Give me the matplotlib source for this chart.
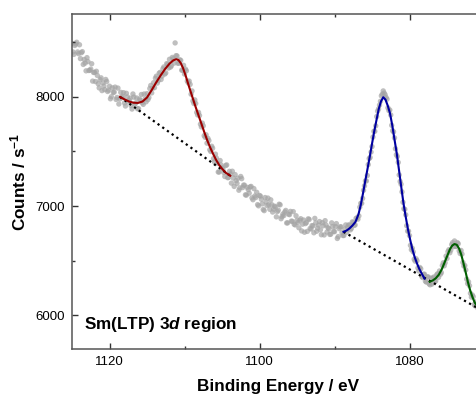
import numpy as np
import matplotlib.pyplot as plt

plt.rcParams['font.family'] = ['Liberation Sans', 'DejaVu Sans']
plt.rcParams['mathtext.fontset'] = 'custom'
plt.rcParams['mathtext.rm'] = 'Liberation Sans:bold'
plt.rcParams['mathtext.it'] = 'Liberation Sans:italic:bold'
plt.rcParams['mathtext.bf'] = 'Liberation Sans:bold'

# measured spectrum, two interleaved sweeps at 0.25 eV step
energy_a = np.arange(1125.0, 1069.99, -0.25)
counts_a = [
    8492, 8390, 8485, 8412, 8478, 8405, 8298, 8310,
    8360, 8242, 8255, 8145, 8225, 8235, 8120, 8158,
    8058, 8100, 8160, 8050, 8098, 8002, 8042, 8090,
    7995, 7935, 8042, 8005, 7945, 8033, 7955, 7988,
    7889, 7998, 7945, 7891, 7980, 8022, 7932, 7983,
    8030, 7995, 8105, 8080, 8085, 8190, 8150, 8225,
    8190, 8275, 8220, 8300, 8345, 8285, 8350, 8495,
    8376, 8310, 8335, 8245, 8210, 8240, 8130, 8115,
    8055, 7940, 7940, 7835, 7830, 7725, 7735, 7630,
    7576, 7600, 7500, 7530, 7405, 7440, 7312, 7417,
    7350, 7307, 7372, 7260, 7318, 7210, 7257, 7288,
    7208, 7145, 7271, 7169, 7191, 7100, 7150, 7175,
    7075, 7160, 7078, 7013, 7097, 7062, 6968, 7078,
    7004, 7012, 7057, 6945, 6999, 6901, 6962, 7011,
    6903, 6913, 6960, 6846, 6921, 6862, 6949, 6827,
    6869, 6801, 6884, 6834, 6760, 6848, 6883, 6795,
    6821, 6755, 6846, 6797, 6858, 6737, 6819, 6866,
    6762, 6792, 6742, 6812, 6765, 6839, 6720, 6809,
    6756, 6730, 6827, 6807, 6825, 6795, 6850, 6827,
    6892, 6910, 7025, 7070, 7185, 7230, 7380, 7445,
    7545, 7685, 7735, 7870, 7925, 8010, 8055, 8020,
    7980, 7875, 7835, 7690, 7625, 7470, 7400, 7225,
    7130, 6975, 6920, 6770, 6730, 6600, 6580, 6495,
    6499, 6405, 6425, 6345, 6375, 6303, 6350, 6278,
    6285, 6350, 6315, 6380, 6405, 6390, 6480, 6480,
    6520, 6600, 6595, 6665, 6680, 6630, 6655, 6565,
    6560, 6450, 6415, 6290, 6270, 6165, 6170, 6085,
    6115, 6055, 6080, 6025, 6050,
]
energy_b = np.arange(1124.875, 1070.0, -0.25)
counts_b = [
    8412, 8472, 8501, 8396, 8351, 8415, 8343, 8239,
    8324, 8244, 8304, 8224, 8141, 8197, 8083, 8175,
    8129, 8067, 8141, 8062, 7983, 8083, 8044, 7977,
    8081, 7981, 7994, 8039, 7917, 8000, 7969, 7921,
    8027, 7931, 7990, 7892, 7968, 7947, 8027, 7955,
    7975, 8077, 8037, 8130, 8172, 8127, 8217, 8160,
    8258, 8210, 8305, 8265, 8273, 8362, 8310, 8378,
    8308, 8340, 8245, 8290, 8255, 8145, 8145, 8025,
    7963, 7973, 7858, 7858, 7750, 7760, 7645, 7653,
    7620, 7515, 7548, 7435, 7476, 7393, 7312, 7377,
    7341, 7271, 7377, 7262, 7293, 7319, 7180, 7233,
    7255, 7167, 7251, 7192, 7103, 7171, 7118, 7180,
    7058, 7092, 7126, 7002, 7091, 7020, 6958, 7038,
    7073, 6970, 7013, 6971, 6991, 6949, 7017, 6884,
    6927, 6946, 6845, 6926, 6951, 6860, 6833, 6911,
    6849, 6870, 6772, 6872, 6839, 6768, 6877, 6789,
    6818, 6887, 6769, 6825, 6782, 6848, 6735, 6826,
    6802, 6740, 6846, 6767, 6812, 6703, 6793, 6810,
    6730, 6789, 6759, 6827, 6782, 6855, 6823, 6887,
    6880, 6990, 7025, 7145, 7230, 7280, 7435, 7495,
    7632, 7685, 7820, 7890, 7960, 8025, 8035, 7995,
    7900, 7880, 7740, 7680, 7525, 7455, 7285, 7200,
    7035, 6970, 6820, 6770, 6640, 6613, 6512, 6517,
    6432, 6437, 6355, 6375, 6311, 6351, 6286, 6339,
    6340, 6307, 6370, 6347, 6375, 6455, 6452, 6542,
    6582, 6572, 6647, 6628, 6630, 6665, 6590, 6593,
    6483, 6455, 6330, 6305, 6200, 6185, 6097, 6122,
    6063, 6093, 6035, 6065,
]

# fitted envelopes
red_E = [1118.6, 1118.0, 1117.4, 1116.8, 1116.2, 1115.6, 1115.0, 1114.4,
         1113.8, 1113.2, 1112.6, 1112.0, 1111.5, 1111.1, 1110.8, 1110.5,
         1110.2, 1109.8, 1109.4, 1109.0, 1108.6, 1108.2, 1107.8, 1107.4,
         1107.0, 1106.6, 1106.2, 1105.8, 1105.4, 1105.0, 1104.5, 1103.9]
red_C = [8000, 7978, 7958, 7947, 7945, 7958, 7995, 8060,
         8130, 8195, 8255, 8305, 8335, 8346, 8338, 8310,
         8265, 8185, 8095, 8010, 7925, 7845, 7765, 7685,
         7608, 7540, 7480, 7425, 7378, 7343, 7305, 7278]
blue_E = [1088.8, 1088.4, 1088.0, 1087.6, 1087.2, 1086.8, 1086.5, 1086.2,
          1085.9, 1085.6, 1085.3, 1085.0, 1084.7, 1084.4, 1084.1, 1083.8,
          1083.5, 1083.2, 1082.9, 1082.6, 1082.3, 1082.0, 1081.7, 1081.4,
          1081.1, 1080.8, 1080.5, 1080.2, 1079.9, 1079.6, 1079.3, 1079.0,
          1078.7, 1078.4, 1078.0]
blue_C = [6764, 6775, 6795, 6822, 6855, 6925, 7010, 7116,
          7230, 7340, 7452, 7570, 7685, 7789, 7890, 7960,
          7997, 7975, 7920, 7850, 7740, 7610, 7483, 7330,
          7175, 7024, 6900, 6785, 6688, 6600, 6530, 6474,
          6425, 6385, 6335]
green_E = [1077.3, 1076.9, 1076.5, 1076.1, 1075.7, 1075.3, 1074.9, 1074.6,
           1074.3, 1074.0, 1073.7, 1073.4, 1073.1, 1072.8, 1072.5, 1072.2,
           1071.9, 1071.6, 1071.3, 1071.0, 1070.5, 1070.0]
green_C = [6306, 6318, 6338, 6370, 6420, 6487, 6555, 6605,
           6638, 6652, 6645, 6612, 6555, 6475, 6390, 6300,
           6225, 6165, 6115, 6085, 6055, 6035]

# linear backgrounds
bg1_E = [1118.6, 1103.9]
bg1_C = [8000, 7278]
bg2_E = [1088.8, 1070.0]
bg2_C = [6764, 6029]

fig = plt.figure(figsize=(4.77, 3.96), dpi=100)
ax = fig.add_axes([72 / 477, 47 / 396, 412.5 / 477, 335 / 396])

ax.scatter(energy_a, counts_a, s=15, color='#a4a4a4', alpha=0.7,
           edgecolors='none', zorder=1)
ax.scatter(energy_b, counts_b, s=15, color='#a4a4a4', alpha=0.7,
           edgecolors='none', zorder=1)
ax.plot(bg1_E, bg1_C, ls=(0, (1, 1.6)), color='black', lw=1.6, zorder=2)
ax.plot(bg2_E, bg2_C, ls=(0, (1, 1.6)), color='black', lw=1.6, zorder=2)
ax.plot(red_E, red_C, color='#9b0000', lw=1.5, zorder=3)
ax.plot(blue_E, blue_C, color='#0000a0', lw=1.5, zorder=3)
ax.plot(green_E, green_C, color='#005e00', lw=1.5, zorder=3)

ax.set_xlim(1125, 1070)
ax.set_ylim(5690, 8760)
ax.set_xticks([1120, 1100, 1080])
ax.set_xticks([1110, 1090], minor=True)
ax.set_yticks([6000, 7000, 8000])
ax.set_yticks([6500, 7500, 8500], minor=True)
ax.tick_params(which='both', direction='in', top=True, right=False,
               labelsize=9.5, color='#333333', pad=5)
ax.tick_params(which='major', length=4.5, width=1)
ax.tick_params(which='minor', length=2.5, width=1)
ax.spines['right'].set_visible(False)
for s in ['left', 'top', 'bottom']:
    ax.spines[s].set_color('#555555')
    ax.spines[s].set_linewidth(1.1)

ax.set_xlabel('Binding Energy / eV', fontsize=12.3, fontweight='bold',
              labelpad=8)
ax.set_ylabel(r'Counts / s$^{-1}$', fontsize=12.3, fontweight='bold',
              labelpad=5)
ax.text(0.03, 0.06, r'Sm(LTP) 3$d$ region', transform=ax.transAxes,
        fontsize=12.3, fontweight='bold', ha='left', va='baseline')

fig.savefig('out.png', dpi=100)
